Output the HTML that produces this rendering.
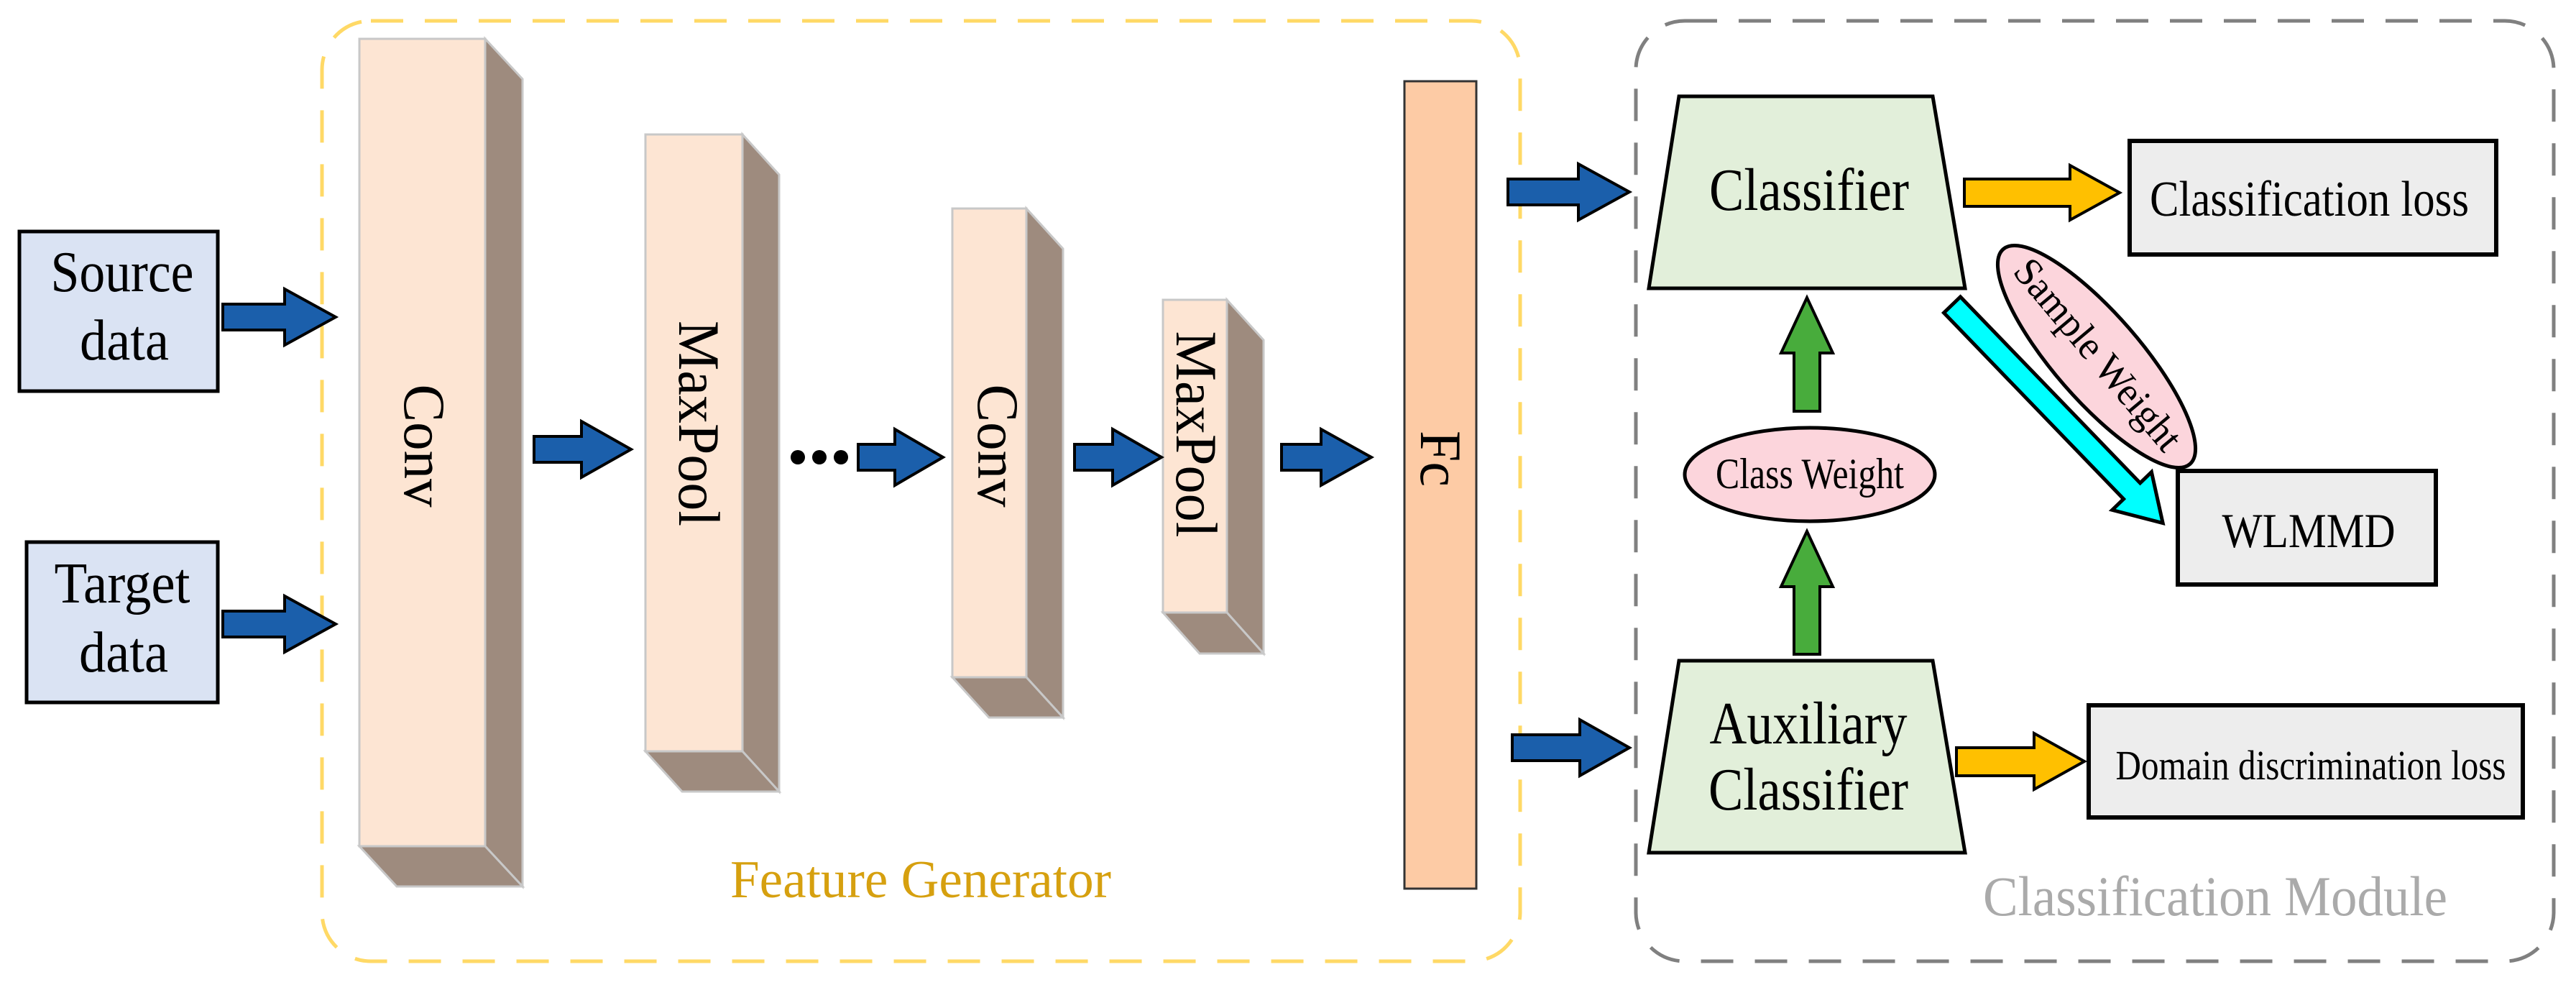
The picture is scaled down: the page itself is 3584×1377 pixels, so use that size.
<!DOCTYPE html>
<html><head><meta charset="utf-8"><style>
html,body{margin:0;padding:0;background:#fff;}
svg{display:block;}
text{font-family:"Liberation Serif",serif;fill:#000;}
</style></head><body>
<svg width="3584" height="1377" viewBox="0 0 3584 1377" xmlns="http://www.w3.org/2000/svg">
<!-- group boxes -->
<rect x="448" y="29" width="1667" height="1308" rx="68" fill="none" stroke="#ffd966" stroke-width="5" stroke-dasharray="45,30"/>
<rect x="2276" y="29" width="1277" height="1308" rx="68" fill="none" stroke="#808080" stroke-width="5" stroke-dasharray="45,30"/>

<!-- input boxes -->
<rect x="27" y="322" width="276" height="222" fill="#dae3f3" stroke="#000" stroke-width="5"/>
<text x="170" y="405" font-size="80" text-anchor="middle" textLength="199" lengthAdjust="spacingAndGlyphs">Source</text>
<text x="173" y="500" font-size="80" text-anchor="middle" textLength="124" lengthAdjust="spacingAndGlyphs">data</text>
<rect x="37" y="754" width="266" height="223" fill="#dae3f3" stroke="#000" stroke-width="5"/>
<text x="170" y="838" font-size="80" text-anchor="middle" textLength="189" lengthAdjust="spacingAndGlyphs">Target</text>
<text x="172" y="934" font-size="80" text-anchor="middle" textLength="124" lengthAdjust="spacingAndGlyphs">data</text>

<!-- 3D blocks -->
<g stroke="#c8c8c8" stroke-width="3">
<polygon points="675,54 727,110 727,1233 675,1177" fill="#9e8b7e"/>
<polygon points="500,1177 675,1177 727,1233 552,1233" fill="#9e8b7e"/>
<rect x="500" y="54" width="175" height="1123" fill="#fde5d3"/>
<polygon points="1033,187 1084,243 1084,1101 1033,1045" fill="#9e8b7e"/>
<polygon points="898,1045 1033,1045 1084,1101 949,1101" fill="#9e8b7e"/>
<rect x="898" y="187" width="135" height="858" fill="#fde5d3"/>
<polygon points="1428,290 1479,346 1479,998 1428,942" fill="#9e8b7e"/>
<polygon points="1325,942 1428,942 1479,998 1376,998" fill="#9e8b7e"/>
<rect x="1325" y="290" width="103" height="652" fill="#fde5d3"/>
<polygon points="1707,417 1758,473 1758,909 1707,852" fill="#9e8b7e"/>
<polygon points="1618,852 1707,852 1758,909 1669,909" fill="#9e8b7e"/>
<rect x="1618" y="417" width="89" height="435" fill="#fde5d3"/>
</g>
<text transform="translate(563,620) rotate(90)" font-size="82" text-anchor="middle" textLength="171" lengthAdjust="spacingAndGlyphs">Conv</text>
<text transform="translate(945,589) rotate(90)" font-size="82" text-anchor="middle" textLength="286" lengthAdjust="spacingAndGlyphs">MaxPool</text>
<text transform="translate(1361,620) rotate(90)" font-size="82" text-anchor="middle" textLength="171" lengthAdjust="spacingAndGlyphs">Conv</text>
<text transform="translate(1637,604) rotate(90)" font-size="82" text-anchor="middle" textLength="287" lengthAdjust="spacingAndGlyphs">MaxPool</text>

<!-- Fc -->
<rect x="1954" y="113" width="100" height="1123" fill="#fdcba5" stroke="#333" stroke-width="3"/>
<text transform="translate(1977,638) rotate(90)" font-size="82" text-anchor="middle" textLength="78" lengthAdjust="spacingAndGlyphs">Fc</text>

<!-- dots -->
<circle cx="1110" cy="636" r="10" fill="#000"/>
<circle cx="1140" cy="636" r="10" fill="#000"/>
<circle cx="1170" cy="636" r="10" fill="#000"/>

<!-- blue arrows -->
<g fill="#1b5fab" stroke="#000" stroke-width="4" stroke-linejoin="miter">
<polygon points="310,423 396,423 396,402 467,441 396,480 396,459 310,459"/>
<polygon points="310,850 396,850 396,829 467,868 396,907 396,886 310,886"/>
<polygon points="743,607 809,607 809,586 878,625 809,664 809,643 743,643"/>
<polygon points="1194,618 1245,618 1245,597 1312,636 1245,675 1245,654 1194,654"/>
<polygon points="1495,618 1548,618 1548,597 1616,636 1548,675 1548,654 1495,654"/>
<polygon points="1783,618 1838,618 1838,597 1908,636 1838,675 1838,654 1783,654"/>
<polygon points="2098,249 2196,249 2196,228 2267,267 2196,306 2196,285 2098,285"/>
<polygon points="2104,1022 2198,1022 2198,1001 2267,1040 2198,1079 2198,1058 2104,1058"/>
</g>

<!-- trapezoids -->
<polygon points="2336,134 2689,134 2734,401 2294,401" fill="#e2efda" stroke="#000" stroke-width="5"/>
<text x="2517" y="292" font-size="84" text-anchor="middle" textLength="278" lengthAdjust="spacingAndGlyphs">Classifier</text>
<polygon points="2336,919 2689,919 2734,1186 2294,1186" fill="#e2efda" stroke="#000" stroke-width="5"/>
<text x="2516" y="1034" font-size="84" text-anchor="middle" textLength="275" lengthAdjust="spacingAndGlyphs">Auxiliary</text>
<text x="2516" y="1126" font-size="84" text-anchor="middle" textLength="278" lengthAdjust="spacingAndGlyphs">Classifier</text>

<!-- loss boxes -->
<rect x="2963" y="196" width="510" height="158" fill="#ededed" stroke="#000" stroke-width="6"/>
<text x="3213" y="300" font-size="70" text-anchor="middle" textLength="444" lengthAdjust="spacingAndGlyphs">Classification loss</text>
<rect x="3030" y="655" width="359" height="158" fill="#ededed" stroke="#000" stroke-width="6"/>
<text x="3212" y="761" font-size="68" text-anchor="middle" textLength="241" lengthAdjust="spacingAndGlyphs">WLMMD</text>
<rect x="2906" y="981" width="604" height="156" fill="#ededed" stroke="#000" stroke-width="6"/>
<text x="3215" y="1084" font-size="58" text-anchor="middle" textLength="543" lengthAdjust="spacingAndGlyphs">Domain discrimination loss</text>

<!-- yellow arrows -->
<g fill="#ffc000" stroke="#000" stroke-width="4">
<polygon points="2733,249 2880,249 2880,230 2949,268 2880,306 2880,287 2733,287"/>
<polygon points="2722,1040 2830,1040 2830,1020 2900,1059 2830,1098 2830,1079 2722,1079"/>
</g>

<!-- green arrows -->
<g fill="#48ac3c" stroke="#000" stroke-width="4">
<polygon points="2496,572 2496,491 2478,491 2514,414 2550,491 2532,491 2532,572"/>
<polygon points="2496,910 2496,816 2478,816 2514,739 2550,816 2532,816 2532,910"/>
</g>

<!-- class weight -->
<ellipse cx="2518" cy="660" rx="174" ry="65" fill="#fcd5dc" stroke="#000" stroke-width="5"/>
<text x="2518" y="679" font-size="60" text-anchor="middle" textLength="262" lengthAdjust="spacingAndGlyphs">Class Weight</text>

<!-- cyan arrow -->
<polygon transform="translate(2716,424) rotate(46)" points="0,-16 360,-16 360,-38 422,0 360,38 360,16 0,16" fill="#00ffff" stroke="#000" stroke-width="5"/>

<!-- sample weight -->
<ellipse cx="2917" cy="496" rx="198" ry="60" transform="rotate(49 2917 496)" fill="#fcd5dc" stroke="#000" stroke-width="5"/>
<text transform="translate(2905,505) rotate(50)" font-size="56" text-anchor="middle" textLength="330" lengthAdjust="spacingAndGlyphs">Sample Weight</text>

<!-- group labels -->
<text x="1281" y="1248" font-size="74" text-anchor="middle" textLength="530" lengthAdjust="spacingAndGlyphs" style="fill:#d6a00f">Feature Generator</text>
<text x="3082" y="1273" font-size="78" text-anchor="middle" textLength="646" lengthAdjust="spacingAndGlyphs" style="fill:#aaaaaa">Classification Module</text>
</svg>
</body></html>
